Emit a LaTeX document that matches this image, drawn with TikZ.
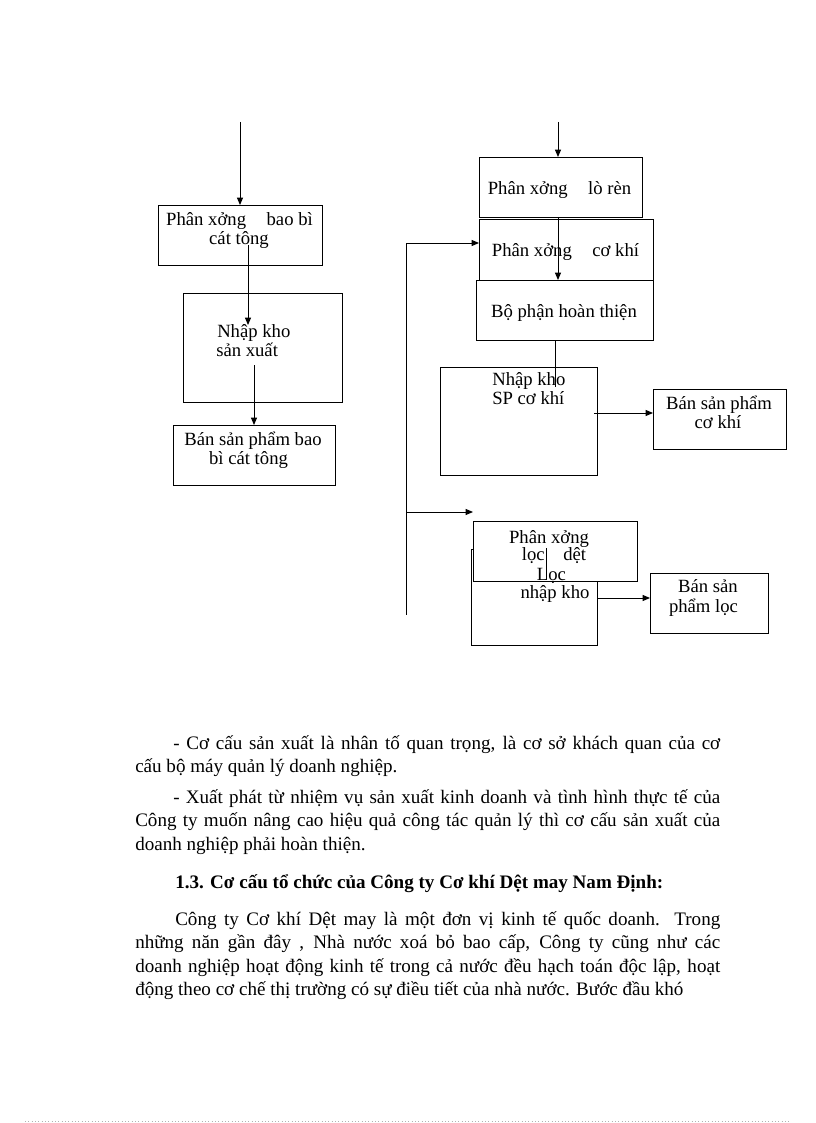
\documentclass[tikz,border=0pt]{standalone}
\usepackage{fontspec}
\setmainfont{Liberation Serif}
\usetikzlibrary{arrows.meta}
\newcommand\mybox[6][]{\node[box,#1,minimum width={(#5-#3)*0.75pt},minimum height={(#6-#4)*0.75pt}] (#2) at ({(#3+#5)/2},{(#4+#6)/2}) {};}
\begin{document}
\begin{tikzpicture}[x=0.75pt,y=-0.75pt,
  box/.style={draw,line width=0.7pt,inner sep=0pt,outer sep=0pt},
  conn/.style={line width=0.7pt},
  arr/.style={line width=0.7pt,-{Triangle[length=5.5pt,width=4.5pt]}},
  dt/.style={font=\fontsize{14}{15}\selectfont,inner sep=0pt,anchor=base},
  dtl/.style={font=\fontsize{14}{15}\selectfont,inner sep=0pt,anchor=base west},
  bt/.style={font=\fontsize{14.3}{16}\selectfont,inner sep=0pt,anchor=base west}]
\useasboundingbox (0,0) rectangle (816,1123);
\fill[white] (0,0) rectangle (816,1123);

% ---------- left column ----------
\mybox{b1}{158}{205}{322}{265}
\mybox{b2}{183}{293}{342}{402}
\mybox{b3}{173}{425}{335}{485}
\node[dt] (t1a) at (239.5,226) {Phân xởng\hspace{1.1em}bao bì};
\node[dt] (t1b) at (239,244) {cát tông};
\node[dtl] (t2a) at (217,337) {Nhập kho};
\node[dtl] (t2b) at (216,356) {sản xuất};
\node[dt] (t3a) at (253,445) {Bán sản phẩm bao};
\node[dt] (t3b) at (248.5,464) {bì cát tông};
\coordinate (l0) at (240,122);
\draw[arr] (l0) -- (b1.north);
\coordinate (l1s) at (248,245);
\coordinate (l1e) at (248,325);
\draw[arr] (l1s) -- (l1e);
\coordinate (l2s) at (254,365);
\draw[arr] (l2s) -- (l2s |- b3.north);

% ---------- right column ----------
\mybox{r1}{479}{157}{642}{217}
\mybox{r2}{479}{219}{653}{280}
\mybox{r3}{476}{280}{653}{340}
\mybox{r4}{440}{367}{597}{475}
\mybox{r5}{653}{389}{786}{449}
\node[dt] (s1) at (559.5,195) {Phân xởng\hspace{1.1em}lò rèn};
\node[dt] (s2) at (565.5,256) {Phân xởng\hspace{1.1em}cơ khí};
\node[dt] (s3) at (564,317) {Bộ phận hoàn thiện};
\node[dtl] (s4a) at (492,385) {Nhập kho};
\node[dtl] (s4b) at (492,404) {SP cơ khí};
\node[dt] (s5a) at (719,409) {Bán sản phẩm};
\node[dt] (s5b) at (718,428) {cơ khí};
\coordinate (m0) at (558,122);
\draw[arr] (m0) -- (m0 |- r1.north);
\coordinate (m1) at (558,217);
\draw[arr] (m1) -- (m1 |- r3.north);
\coordinate (m2) at (555,340);
\coordinate (m3) at (555,387);
\draw[conn] (m2) -- (m3);
\coordinate (m4) at (594,413);
\draw[arr] (m4) -- (m4 -| r5.west);

% loop line
\coordinate (lp1) at (406,243);
\coordinate (lp2) at (406,615);
\coordinate (lp3) at (406,512);
\draw[conn] (lp1) -- (lp2);
\draw[arr] (lp1) -- (lp1 -| r2.west);

% ---------- loc branch ----------
\mybox{f2}{471}{549}{597}{645}
\mybox[fill=white]{f1}{473}{521}{637}{581}
\mybox{f3}{650}{573}{768}{633}
\draw[arr] (lp3) -- (lp3 -| f1.west);
\coordinate (n1) at (546,548);
\coordinate (n2) at (546,580);
\draw[conn] (n1) -- (n2);
\node[dt] (u1a) at (549,543) {Phân xởng};
\node[dt] (u1b) at (554,560) {lọc\hspace{1.0em}dệt};
\node[dt] (u2a) at (551.5,580) {Lọc};
\node[dt] (u2b) at (555,598) {nhập kho};
\node[dt] (u3a) at (708,592) {Bán sản};
\node[dt] (u3b) at (703.5,612) {phẩm lọc};
\coordinate (n3) at (598,598);
\draw[arr] (n3) -- (n3 -| f3.west);

% ---------- body text ----------
\node[bt] (p1a) at (173,749) {\hbox to 410.25pt{- Cơ cấu sản xuất là nhân tố quan trọng, là cơ sở khách quan của cơ}};
\node[bt] (p1b) at (135,772) {cấu bộ máy quản lý doanh nghiệp.};
\node[bt] (p2a) at (173,803) {\hbox to 410.25pt{- Xuất phát từ nhiệm vụ sản xuất kinh doanh và tình hình thực tế của}};
\node[bt] (p2b) at (135,826) {\hbox to 438.75pt{Công ty muốn nâng cao hiệu quả công tác quản lý thì cơ cấu sản xuất của}};
\node[bt] (p2c) at (135,850) {doanh nghiệp phải hoàn thiện.};
\node[bt] (h1) at (175,888) {\bfseries 1.3. Cơ cấu tổ chức của Công ty Cơ khí Dệt may Nam Định:};
\node[bt] (p3a) at (175,925) {\hbox to 408.75pt{Công ty Cơ khí Dệt may là một đơn vị kinh tế quốc doanh. Trong}};
\node[bt] (p3b) at (135,948) {\hbox to 438.75pt{những năn gần đây , Nhà nước xoá bỏ bao cấp, Công ty cũng như các}};
\node[bt] (p3c) at (135,972) {\hbox to 438.75pt{doanh nghiệp hoạt động kinh tế trong cả nước đều hạch toán độc lập, hoạt}};
\node[bt] (p3d) at (135,995) {động theo cơ chế thị trường có sự điều tiết của nhà nước. Bước đầu khó};

% page footer dotted rule
\draw[gray!60,line width=0.5pt,dotted] (25,1121) -- (791,1121);
\end{tikzpicture}
\end{document}
